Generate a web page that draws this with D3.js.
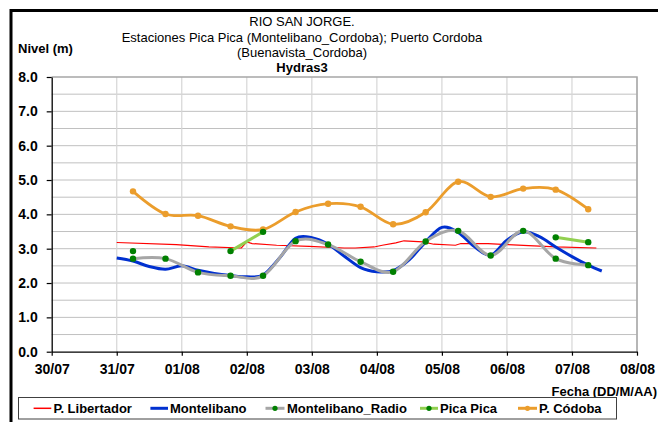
<!DOCTYPE html>
<html><head><meta charset="utf-8">
<script src="https://cdn.jsdelivr.net/npm/d3@7"></script>
<style>
html,body{margin:0;padding:0;background:#fff;}
svg{display:block;font-family:Arial,"Liberation Sans",sans-serif;}
</style></head>
<body><svg id="c" width="658" height="422"></svg>
<script>
// ---------- data ----------
const xTickLabels = ["30/07","31/07","01/08","02/08","03/08","04/08","05/08","06/08","07/08","08/08"];
const xTickDates = ["2011-07-30 00:00","2011-07-31 00:00","2011-08-01 00:00","2011-08-02 00:00","2011-08-03 00:00","2011-08-04 00:00","2011-08-05 00:00","2011-08-06 00:00","2011-08-07 00:00","2011-08-08 00:00"];
const yTickValues = [0,1,2,3,4,5,6,7,8];
const yTickLabels = ["0.0","1.0","2.0","3.0","4.0","5.0","6.0","7.0","8.0"];

// 12-hourly readings (Montelibano_Radio, Pica Pica, P. Córdoba)
const dates12h = ["2011-07-31 06:00","2011-07-31 18:00","2011-08-01 06:00","2011-08-01 18:00","2011-08-02 06:00","2011-08-02 18:00","2011-08-03 06:00","2011-08-03 18:00","2011-08-04 06:00","2011-08-04 18:00","2011-08-05 06:00","2011-08-05 18:00","2011-08-06 06:00","2011-08-06 18:00","2011-08-07 06:00"];
const radioValues  = [2.71,2.71,2.31,2.21,2.21,3.22,3.12,2.62,2.33,3.21,3.52,2.80,3.52,2.71,2.52];
const picaValues   = [2.93,null,null,2.93,3.49,null,null,null,null,null,null,null,null,3.33,3.19];
const cordobaValues= [4.67,4.01,3.96,3.65,3.56,4.07,4.31,4.22,3.71,4.06,4.95,4.51,4.75,4.72,4.15];

// Montelibano (6-hourly)
const monteDates = ["2011-07-31 00:00","2011-07-31 06:00","2011-07-31 12:00","2011-07-31 18:00","2011-08-01 00:00","2011-08-01 06:00","2011-08-01 12:00","2011-08-01 18:00","2011-08-02 00:00","2011-08-02 06:00","2011-08-02 12:00","2011-08-02 18:00","2011-08-03 00:00","2011-08-03 06:00","2011-08-03 12:00","2011-08-03 18:00","2011-08-04 00:00","2011-08-04 06:00","2011-08-04 12:00","2011-08-04 18:00","2011-08-05 00:00","2011-08-05 06:00","2011-08-05 12:00","2011-08-05 18:00","2011-08-06 00:00","2011-08-06 06:00","2011-08-06 12:00","2011-08-06 18:00","2011-08-07 00:00","2011-08-07 06:00","2011-08-07 11:00"];
const monteValues = [2.73,2.64,2.48,2.40,2.50,2.37,2.28,2.22,2.18,2.23,2.72,3.30,3.32,3.13,2.78,2.45,2.33,2.36,2.68,3.20,3.62,3.47,3.06,2.81,3.25,3.49,3.35,3.05,2.77,2.52,2.35];

// P. Libertador (irregular)
const libDates = ["2011-07-31 00:00","2011-07-31 22:00","2011-08-01 10:00","2011-08-01 22:00","2011-08-02 00:00","2011-08-02 02:00","2011-08-02 11:00","2011-08-02 23:00","2011-08-03 12:00","2011-08-03 16:00","2011-08-03 23:00","2011-08-04 02:00","2011-08-04 07:00","2011-08-04 10:00","2011-08-04 17:00","2011-08-04 21:00","2011-08-05 05:00","2011-08-05 07:00","2011-08-05 17:00","2011-08-06 00:00","2011-08-06 08:00","2011-08-06 18:00","2011-08-07 09:00"];
const libValues = [3.18,3.12,3.05,3.02,3.20,3.15,3.10,3.07,3.02,3.02,3.05,3.10,3.17,3.23,3.20,3.13,3.10,3.15,3.15,3.12,3.09,3.05,3.02];

const seriesNames = ["P. Libertador","Montelibano","Montelibano_Radio","Pica Pica","P. Códoba"];

// ---------- drawing ----------
const parse = d3.timeParse("%Y-%m-%d %H:%M");
const svg = d3.select("#c");
const L = 51.7, R = 637, T = 77, B = 351.7;
const x = d3.scaleTime().domain([parse(xTickDates[0]), parse(xTickDates[xTickDates.length-1])]).range([L, R]);
const y = d3.scaleLinear().domain([0, 8]).range([B, T]);

// outer frame
svg.append("rect").attr("x",11).attr("y",10.5).attr("width",700).attr("height",500)
  .attr("fill","#fff").attr("stroke","#000").attr("stroke-width",3);

// gridlines
const gh = d3.range(1,16).map(i=>i*0.5);
svg.append("g").selectAll("line").data(gh).join("line")
  .attr("x1",L).attr("x2",R).attr("y1",d=>y(d)).attr("y2",d=>y(d))
  .attr("stroke","#c0c0c0").attr("stroke-width",1);
svg.append("g").selectAll("line").data(xTickDates.slice(1)).join("line")
  .attr("x1",d=>x(parse(d))).attr("x2",d=>x(parse(d))).attr("y1",T).attr("y2",B)
  .attr("stroke","#d6d6d6").attr("stroke-width",1.2);
// plot border top/right
svg.append("path").attr("d",`M${L},${T}H${R}V${B}`).attr("fill","none").attr("stroke","#a6a6a6").attr("stroke-width",1.5);

// axes
const yAxis = d3.axisLeft(y).tickValues(yTickValues).tickFormat((d,i)=>yTickLabels[i]).tickSize(5).tickSizeOuter(0).tickPadding(9);
const gy = svg.append("g").attr("transform",`translate(${L},0)`).call(yAxis);
const xAxis = d3.axisBottom(x).tickValues(xTickDates.map(parse)).tickFormat((d,i)=>xTickLabels[i]).tickSize(4).tickSizeOuter(0).tickPadding(8);
const gx = svg.append("g").attr("transform",`translate(0,${B})`).call(xAxis);
[gy,gx].forEach(g=>{
  g.select(".domain").attr("stroke","#000").attr("stroke-width",1.3);
  g.selectAll(".tick line").attr("stroke","#000").attr("stroke-width",1.2);
  g.selectAll(".tick text").attr("font-size",14).attr("font-weight","bold").attr("fill","#000")
    .attr("font-family",'Arial,"Liberation Sans",sans-serif');
});

const smooth = d3.curveCardinal.tension(0);
function pts(ds, vs){ return ds.map((d,i)=>({t:parse(d), v:vs[i]})); }
const lineS = d3.line().defined(d=>d.v!=null).x(d=>x(d.t)).y(d=>y(d.v)).curve(smooth);
const lineL = d3.line().x(d=>x(d.t)).y(d=>y(d.v));

const plot = svg.append("g");
// P. Córdoba
const cord = pts(dates12h, cordobaValues);
plot.append("path").attr("d",lineS(cord)).attr("fill","none").attr("stroke","#eb9d2c").attr("stroke-width",2.8);
plot.append("g").selectAll("circle").data(cord).join("circle").attr("cx",d=>x(d.t)).attr("cy",d=>y(d.v)).attr("r",3.2).attr("fill","#eb9d2c");
// P. Libertador
plot.append("path").attr("d",lineL(pts(libDates, libValues))).attr("fill","none").attr("stroke","#ff0000").attr("stroke-width",1.2);
// Montelibano
plot.append("path").attr("d",lineS(pts(monteDates, monteValues))).attr("fill","none").attr("stroke","#0030d0").attr("stroke-width",3);
// Radio
const rad = pts(dates12h, radioValues);
plot.append("path").attr("d",lineS(rad)).attr("fill","none").attr("stroke","#a6a6a6").attr("stroke-width",3);
// Pica Pica
const pica = pts(dates12h, picaValues);
plot.append("path").attr("d",lineS(pica)).attr("fill","none").attr("stroke","#92d050").attr("stroke-width",3);
plot.append("g").selectAll("circle").data(rad).join("circle").attr("cx",d=>x(d.t)).attr("cy",d=>y(d.v)).attr("r",3.2).attr("fill","#008000");
plot.append("g").selectAll("circle").data(pica.filter(d=>d.v!=null)).join("circle").attr("cx",d=>x(d.t)).attr("cy",d=>y(d.v)).attr("r",3.2).attr("fill","#008000");

// titles
const title = svg.append("g").attr("font-size",13).attr("fill","#000").attr("text-anchor","middle");
title.append("text").attr("x",302).attr("y",26).text("RIO SAN JORGE.");
title.append("text").attr("x",302).attr("y",41.5).text("Estaciones Pica Pica (Montelibano_Cordoba); Puerto Cordoba");
title.append("text").attr("x",302).attr("y",56.5).text("(Buenavista_Cordoba)");
title.append("text").attr("x",302).attr("y",71.5).attr("font-weight","bold").text("Hydras3");
svg.append("text").attr("x",18).attr("y",52.5).attr("font-size",13).attr("font-weight","bold").text("Nivel (m)");
svg.append("text").attr("x",657).attr("y",395.5).attr("text-anchor","end").attr("font-size",13).attr("font-weight","bold").text("Fecha (DD/M/AA)");

// legend
const lg = svg.append("g");
lg.append("rect").attr("x",18.5).attr("y",397.5).attr("width",598).attr("height",21.5).attr("fill","#fff").attr("stroke","#404040").attr("stroke-width",1);
const legItems = [
  {x1:33.6,x2:51.3,tx:53.4,c:"#ff0000",w:1.5,m:null},
  {x1:150.4,x2:168,tx:170,c:"#0030d0",w:3,m:null},
  {x1:265.5,x2:284.5,tx:287,c:"#a6a6a6",w:3,m:"#008000"},
  {x1:420,x2:438,tx:440,c:"#92d050",w:3,m:"#008000"},
  {x1:518,x2:537,tx:539,c:"#eb9d2c",w:3,m:"#eb9d2c"}
];
const ly = 408.3;
legItems.forEach((it,i)=>{
  lg.append("line").attr("x1",it.x1).attr("x2",it.x2).attr("y1",ly).attr("y2",ly).attr("stroke",it.c).attr("stroke-width",it.w);
  if(it.m) lg.append("circle").attr("cx",(it.x1+it.x2)/2).attr("cy",ly).attr("r",2.6).attr("fill",it.m);
  lg.append("text").attr("x",it.tx).attr("y",ly+4.6).attr("font-size",13).attr("font-weight","bold").text(seriesNames[i]);
});
</script></body></html>
